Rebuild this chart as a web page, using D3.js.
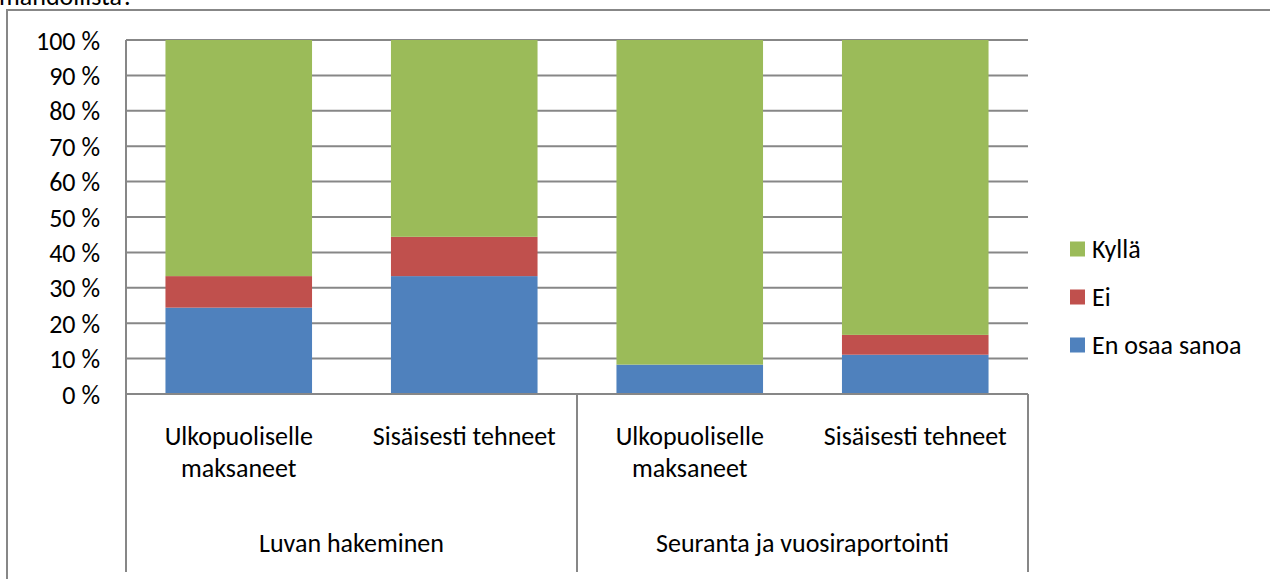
<html><head>
<meta charset="UTF-8">
<title>Luvan hakeminen / Seuranta</title>
<script src="https://cdn.jsdelivr.net/npm/d3@7"></script>
<style>
  body { margin: 0; background: #fff; }
  svg text { font-family: Carlito, Calibri, Lato, sans-serif; fill: #000; }
</style>
</head>
<body>
<div id="chart"></div>
<script>
// bar labels, group labels and the three answer shares (percent)
const barLabels = [["Ulkopuoliselle", "maksaneet"], ["Sisäisesti tehneet"], ["Ulkopuoliselle", "maksaneet"], ["Sisäisesti tehneet"]];
const groups = ["Luvan hakeminen", "Seuranta ja vuosiraportointi"];
const enOsaa = [24.4, 33.3, 8.3, 11.1];
const ei = [8.9, 11.1, 0, 5.6];
const kylla = [66.7, 55.6, 91.7, 83.3];
const yTicks = [0, 10, 20, 30, 40, 50, 60, 70, 80, 90, 100];

const keys = ["En osaa sanoa", "Ei", "Kyllä"];
const colors = {"En osaa sanoa": "#4F81BD", "Ei": "#C0504D", "Kyllä": "#9BBB59"};
const rows = barLabels.map((l, i) => ({id: i, "En osaa sanoa": enOsaa[i], "Ei": ei[i], "Kyllä": kylla[i]}));

const W = 1270, H = 579;
const plot = {left: 126, right: 1028, top: 40, bottom: 394};
const grey = "#878787";
const fs = 26;

const svg = d3.select("#chart").append("svg").attr("width", W).attr("height", H);

// outer chart frame (clipped by the window on right and bottom)
svg.append("rect").attr("x", 7).attr("y", 10).attr("width", 1300).attr("height", 600)
  .attr("fill", "none").attr("stroke", grey).attr("stroke-width", 2);

// cut-off title line above the frame
svg.append("text").attr("x", -1).attr("y", 5).attr("font-size", fs).text("mahdollista?");

const x = d3.scaleBand().domain(rows.map(d => d.id)).range([plot.left, plot.right])
  .paddingInner(0.35).paddingOuter(0.175);
const y = d3.scaleLinear().domain([0, 100]).range([plot.bottom, plot.top]);

// gridlines
svg.append("g").selectAll("line").data(yTicks).join("line")
  .attr("x1", plot.left).attr("x2", plot.right)
  .attr("y1", d => y(d)).attr("y2", d => y(d))
  .attr("stroke", grey).attr("stroke-width", 2);

// y axis labels
const yAxis = d3.axisLeft(y).tickValues(yTicks).tickFormat(d => d + " %").tickSize(0).tickPadding(26);
const gy = svg.append("g").attr("transform", `translate(${plot.left},0)`).call(yAxis);
gy.select(".domain").remove();
gy.selectAll("text").attr("font-size", fs).attr("dy", "0.35em")
  .style("font-family", "Carlito, Calibri, Lato, sans-serif");

// stacked bars
const series = d3.stack().keys(keys)(rows);
svg.append("g").selectAll("g").data(series).join("g")
  .attr("fill", s => colors[s.key])
  .selectAll("rect").data(s => s).join("rect")
  .attr("x", d => x(d.data.id))
  .attr("width", x.bandwidth())
  .attr("y", d => y(d[1]))
  .attr("height", d => y(d[0]) - y(d[1]));

// category axis: base line and separators
const axisBottom = 572;
svg.append("line").attr("x1", plot.left).attr("x2", plot.right)
  .attr("y1", plot.bottom).attr("y2", plot.bottom).attr("stroke", grey).attr("stroke-width", 2);
const midX = (x(1) + x.bandwidth() + x(2)) / 2;
[[plot.left, plot.top], [midX, plot.bottom], [plot.right, plot.bottom]].forEach(([sx, sy]) => {
  svg.append("line").attr("x1", sx).attr("x2", sx).attr("y1", sy).attr("y2", axisBottom)
    .attr("stroke", grey).attr("stroke-width", 2);
});

// bar labels
svg.append("g").selectAll("text").data(rows).join("text")
  .attr("text-anchor", "middle").attr("font-size", fs)
  .attr("x", d => x(d.id) + x.bandwidth() / 2)
  .attr("y", 445)
  .each(function(d) {
    barLabels[d.id].forEach((line, k) => {
      d3.select(this).append("tspan")
        .attr("x", x(d.id) + x.bandwidth() / 2)
        .attr("dy", k === 0 ? 0 : 32)
        .text(line);
    });
  });

// group labels
const groupCenters = [(plot.left + midX) / 2, (midX + plot.right) / 2];
svg.append("g").selectAll("text").data(groups).join("text")
  .attr("text-anchor", "middle").attr("font-size", fs)
  .attr("x", (d, i) => groupCenters[i]).attr("y", 552)
  .text(d => d);

// legend
const legend = svg.append("g").attr("transform", "translate(1070,0)");
const legendKeys = ["Kyllä", "Ei", "En osaa sanoa"];
const legendY = d3.scalePoint().domain(legendKeys).range([249, 345]);
legend.selectAll("rect").data(legendKeys).join("rect")
  .attr("x", 0).attr("y", d => legendY(d) - 7.5).attr("width", 15).attr("height", 15)
  .attr("fill", d => colors[d]);
legend.selectAll("text").data(legendKeys).join("text")
  .attr("x", 22).attr("y", d => legendY(d)).attr("dy", "0.35em").attr("font-size", fs)
  .text(d => d);
</script>
</body></html>
